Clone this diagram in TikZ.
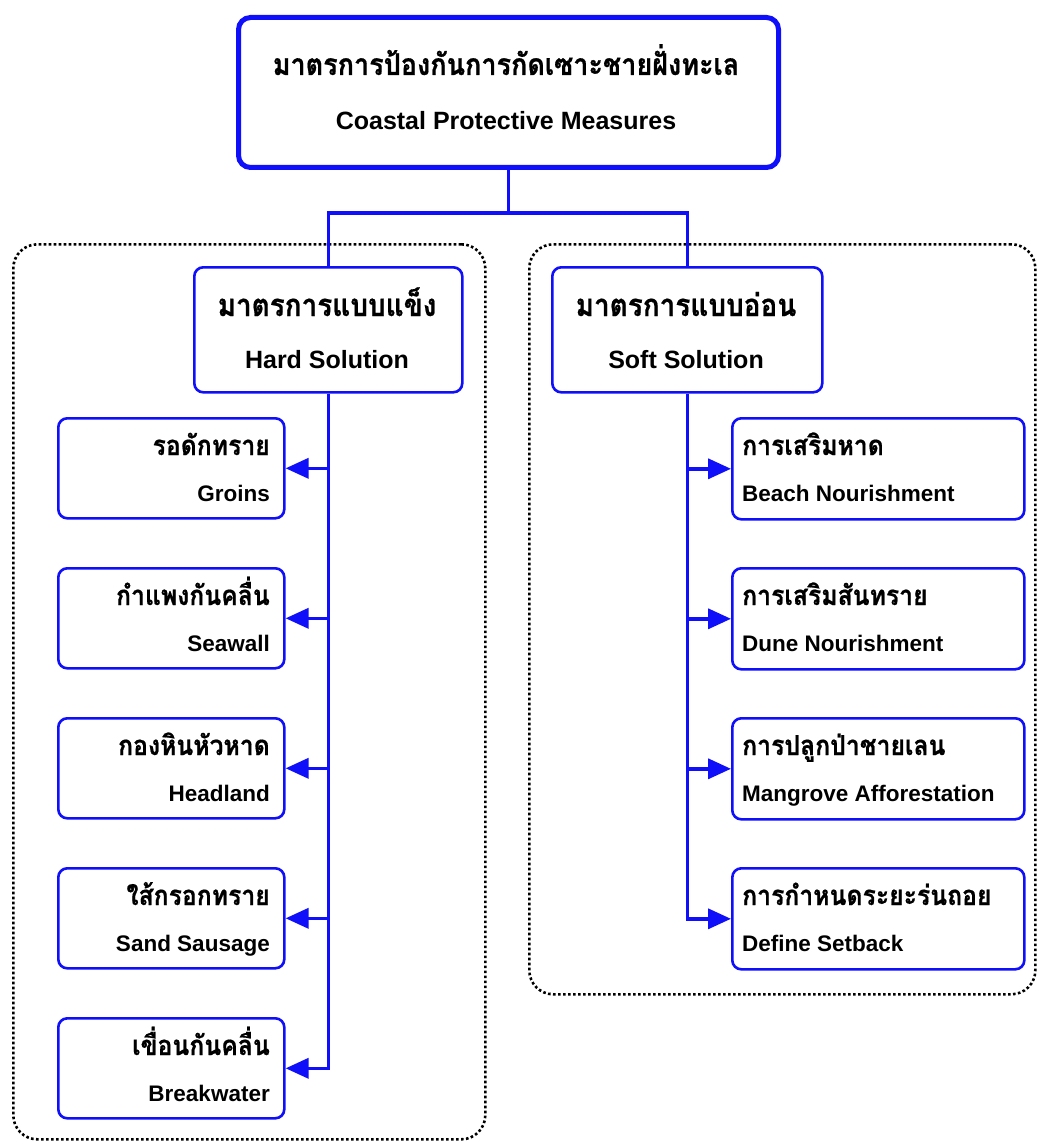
\documentclass[tikz,border=0pt]{standalone}
\usepackage{fontspec}
\setmainfont{Liberation Sans}
\newfontfamily\thai[Script=Thai, FakeStretch=0.9, BoldFeatures={FakeBold=0.6}]{Loma}
\usetikzlibrary{arrows.meta}
\definecolor{lineblue}{RGB}{15,15,250}

\begin{document}
\begin{tikzpicture}[x=1pt,y=-1pt,
  box/.style={draw=lineblue, line width=2.6pt, rounded corners=9pt, fill=white, inner sep=0pt},
  mainbox/.style={box, line width=5pt, rounded corners=12pt},
  link/.style={draw=lineblue, line width=3.6pt},
  arr/.style={link, -{Triangle[length=23pt,width=20pt]}},
  group/.style={draw=black, line width=2.6pt, dash pattern=on 2.6pt off 2.4pt, rounded corners=24pt, inner sep=0pt},
  thtop/.style={font=\thai\bfseries\fontsize{30}{32}\selectfont, inner sep=0pt},
  thmid/.style={font=\thai\bfseries\fontsize{31}{33}\selectfont, inner sep=0pt},
  enbig/.style={font=\bfseries\fontsize{25}{28}\selectfont, inner sep=0pt},
  thsmall/.style={font=\thai\bfseries\fontsize{27.5}{30}\selectfont, inner sep=0pt},
  ensmall/.style={font=\bfseries\fontsize{22.5}{25}\selectfont, inner sep=0pt}]

\useasboundingbox (0,0) rectangle (1037,1142);

% dotted groups
\node[group, minimum width=472pt, minimum height=895pt, anchor=north west] (hardgrp) at (12,243) {};
\node[group, minimum width=506pt, minimum height=750pt, anchor=north west] (softgrp) at (528,243) {};

% top box
\node[mainbox, minimum width=540pt, minimum height=150pt, anchor=north west] (top) at (236,15) {};
\node[thtop, anchor=base] (top-th) at (506,75) {มาตรการป้องกันการกัดเซาะชายฝั่งทะเล};
\node[enbig, anchor=base] (top-en) at (506,130) {Coastal Protective Measures};

% second level
\node[box, minimum width=268pt, minimum height=125pt, anchor=north west] (hard) at (193,266) {};
\node[thmid, anchor=base] (hard-th) at (327,316) {มาตรการแบบแข็ง};
\node[enbig, anchor=base] (hard-en) at (327,368) {Hard Solution};

\node[box, minimum width=270pt, minimum height=125pt, anchor=north west] (soft) at (551,266) {};
\node[thmid, anchor=base] (soft-th) at (686,316) {มาตรการแบบอ่อน};
\node[enbig, anchor=base] (soft-en) at (686,368) {Soft Solution};

% hard solution items
\foreach \name/\th/\en [count=\i from 0] in {
  groins/รอดักทราย/Groins,
  seawall/กำแพงกันคลื่น/Seawall,
  headland/กองหินหัวหาด/Headland,
  sausage/ใส้กรอกทราย/Sand Sausage,
  breakwater/เขื่อนกันคลื่น/Breakwater} {
  \pgfmathsetmacro{\ytop}{417+150*\i}
  \node[box, minimum width=226pt, minimum height=100pt, anchor=north west] (\name) at (57,\ytop) {};
  \node[thsmall, anchor=base east] (\name-th) at (270,\ytop+38) {\th};
  \node[ensmall, anchor=base east] (\name-en) at (270,\ytop+84) {\en};
}

% soft solution items
\foreach \name/\th/\en [count=\i from 0] in {
  beach/การเสริมหาด/Beach Nourishment,
  dune/การเสริมสันทราย/Dune Nourishment,
  mangrove/การปลูกป่าชายเลน/Mangrove Afforestation,
  setback/การกำหนดระยะร่นถอย/Define Setback} {
  \pgfmathsetmacro{\ytop}{417+150*\i}
  \node[box, minimum width=292pt, minimum height=101pt, anchor=north west] (\name) at (731,\ytop) {};
  \node[thsmall, anchor=base west] (\name-th) at (742,\ytop+38) {\th};
  \node[ensmall, anchor=base west] (\name-en) at (742,\ytop+84) {\en};
}

% connectors from the main box
\coordinate (bus) at (0,213);
\draw[link] (top.south) -- (top.south |- bus);
\draw[link] (hard.north) -- (hard.north |- bus) -- (soft.north |- bus) -- (soft.north);

% hard solution spine
\draw[arr] (hard.south) |- (breakwater.east);
\foreach \name in {groins,seawall,headland,sausage}
  \draw[arr] (hard.south |- \name.east) -- (\name.east);

% soft solution spine
\draw[arr] (soft.south) |- (setback.west);
\foreach \name in {beach,dune,mangrove}
  \draw[arr] (soft.south |- \name.west) -- (\name.west);
\end{tikzpicture}
\end{document}
